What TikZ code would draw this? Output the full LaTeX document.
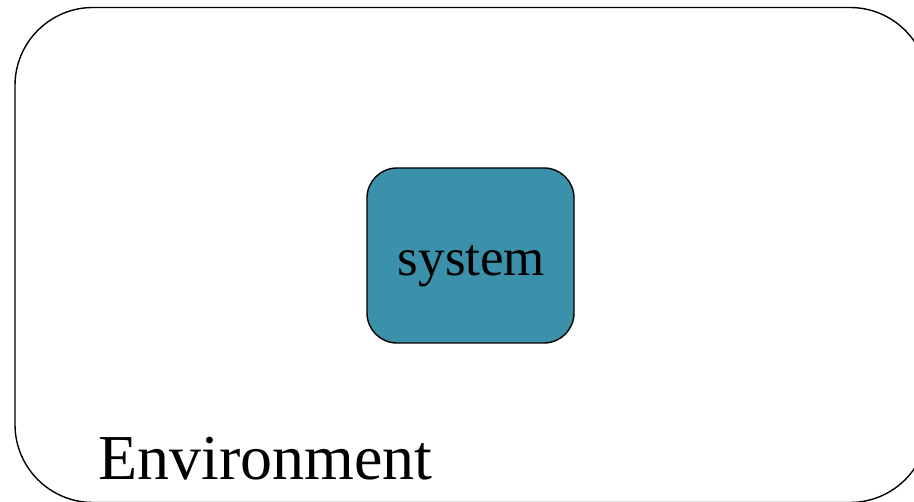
\documentclass[tikz,border=0pt]{standalone}
\usepackage{fontspec}
\setmainfont{Liberation Serif}
\usetikzlibrary{positioning}

\definecolor{systeal}{RGB}{58,145,169}

\tikzset{
  envbox/.style={draw=black, line width=1.4pt, rounded corners=78pt},
  sysbox/.style={draw=black, line width=1.4pt, fill=systeal, rounded corners=30pt,
    minimum width=207pt, minimum height=175pt, inner sep=0pt},
  systext/.style={font=\fontsize{53}{60}\selectfont, anchor=base, inner sep=0pt},
  envtext/.style={font=\fontsize{64}{72}\selectfont, anchor=base west, inner sep=0pt}
}

\begin{document}
\begin{tikzpicture}[x=1pt, y=-1pt]
  % 画布大小
  \useasboundingbox (0,0) rectangle (914,502);
  \clip (0,0) rectangle (914,502);
  % 外层环境框, 右下两侧超出画布
  \draw[envbox] (15,7.5) rectangle (928,502.5);
  % 中间的系统框
  \node[sysbox] (sys) at (470.5,255.5) {};
  % 系统框文字
  \node[systext] (syslabel) at ([xshift=1pt, yshift=-20.5pt]sys.center) {system};
  % 环境文字
  \node[envtext] (envlabel) at (98,480) {Environment};
\end{tikzpicture}
\end{document}
